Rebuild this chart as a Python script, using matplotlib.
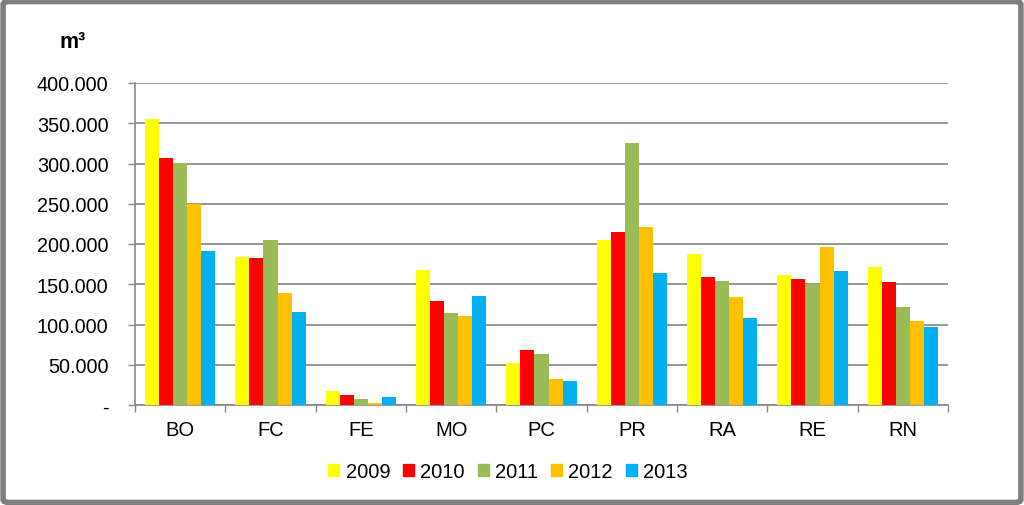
import matplotlib
matplotlib.use("Agg")
import matplotlib.pyplot as plt
import numpy as np
from matplotlib.patches import Rectangle, FancyBboxPatch
from matplotlib.ticker import FuncFormatter, FixedLocator

plt.rcParams['font.family'] = ['Liberation Sans', 'DejaVu Sans']

categories = ["BO", "FC", "FE", "MO", "PC", "PR", "RA", "RE", "RN"]
years = ["2009", "2010", "2011", "2012", "2013"]
v2009 = [355000, 183500, 17400, 167700, 51800, 205000, 188000, 161500, 171400]
v2010 = [307000, 182000, 12800, 129000, 68700, 215000, 159400, 157000, 153000]
v2011 = [300600, 205000, 7500, 114000, 63400, 326000, 154000, 150000, 121700]
v2012 = [250000, 138700, 2900, 110500, 32300, 221500, 134000, 196700, 104800]
v2013 = [191000, 115500, 10300, 136000, 29800, 164000, 108000, 166500, 97300]
series = [v2009, v2010, v2011, v2012, v2013]
colors = ["#FFFF00", "#FF0000", "#9BBB59", "#FFC000", "#00B0F0"]
yticks = [0, 50000, 100000, 150000, 200000, 250000, 300000, 350000, 400000]

fig = plt.figure(figsize=(10.24, 5.06), dpi=100)
ax = fig.add_axes([135/1024, 100/506, 813/1024, 322/506])

x = np.arange(len(categories))
bw = 0.155
for i, (vals, c) in enumerate(zip(series, colors)):
    ax.bar(x + (i - 2) * bw, vals, width=bw, color=c, label=years[i], zorder=3)

ax.set_xlim(-0.5, len(categories) - 0.5)
ax.set_ylim(0, 400000)
ax.set_yticks(yticks)
ax.yaxis.set_major_formatter(FuncFormatter(lambda v, p: "-" if v == 0 else f"{int(v):,}".replace(",", ".")))
ax.set_xticks(x)
ax.set_xticklabels(categories)
ax.xaxis.set_minor_locator(FixedLocator(np.arange(-0.5, len(categories), 1.0)))
ax.tick_params(axis='x', which='major', length=0, pad=11, labelsize=14.5)
ax.tick_params(axis='x', which='minor', length=5, color='#888888', width=1)
ax.tick_params(axis='y', length=5, color='#888888', width=1, labelsize=14.3, pad=14)
ax.grid(axis='y', color='#969696', linewidth=1.4, zorder=0)
for s in ['top', 'right']:
    ax.spines[s].set_visible(False)
for s in ['left', 'bottom']:
    ax.spines[s].set_color('#888888')
    ax.spines[s].set_linewidth(1.2)

fig.text(73/1024, 1 - 43/506, "m³", fontsize=15.5, fontweight='bold', ha='center', va='center')

handles = [Rectangle((0, 0), 1, 1, color=c) for c in colors]
fig.legend(handles, years, loc='center', bbox_to_anchor=(508/1024, 1 - 473/506), ncol=5,
           frameon=False, fontsize=14.5, handlelength=0.55, handleheight=0.55,
           handletextpad=0.3, columnspacing=0.65)

border = FancyBboxPatch((0.003, 0.005), 0.994, 0.99, boxstyle="round,pad=0,rounding_size=0.006",
                        transform=fig.transFigure, fill=False, edgecolor='#7f7f7f', linewidth=4)
fig.patches.append(border)

fig.savefig("out.png", dpi=100)
